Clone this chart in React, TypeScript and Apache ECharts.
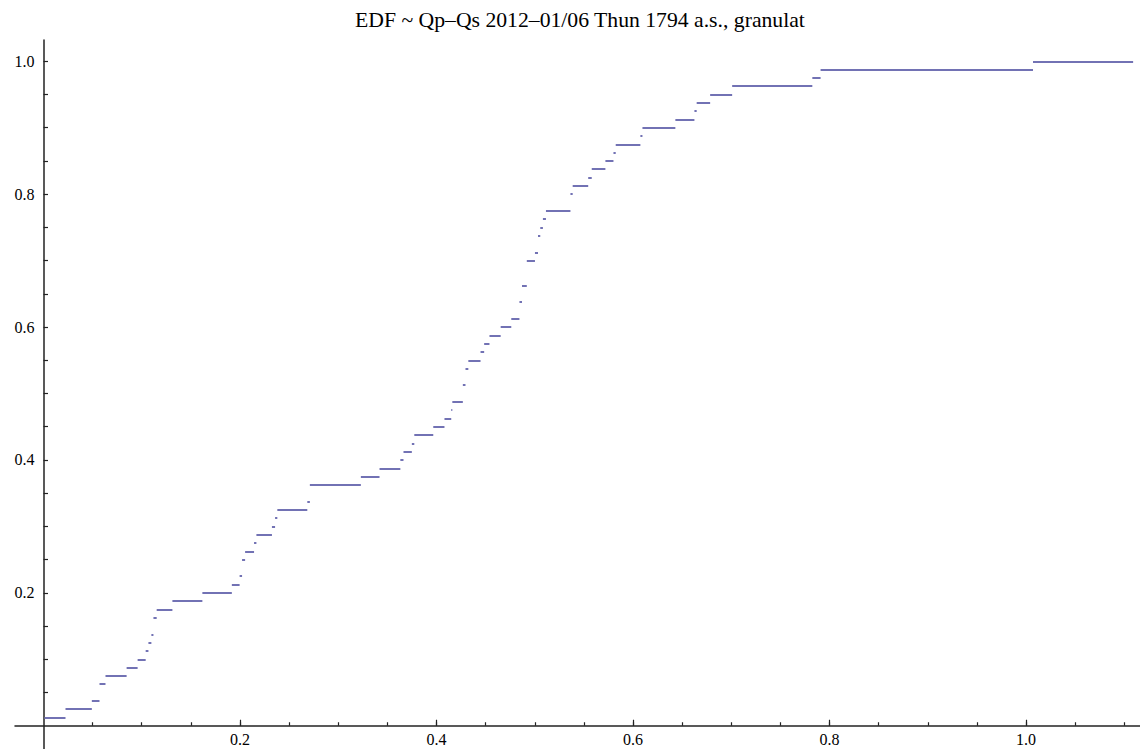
import React, { useEffect, useRef } from "react";
import * as echarts from "echarts";

const SAMPLES = [
  0.001, 0.0224, 0.0492, 0.057, 0.057, 0.0631, 0.0846, 0.0958, 0.104, 0.1068,
  0.1098, 0.1119, 0.1119, 0.1152, 0.1312, 0.1617, 0.1917, 0.1996, 0.2021, 0.2021,
  0.2052, 0.2143, 0.2167, 0.2325, 0.2357, 0.238, 0.2685, 0.2711, 0.2711, 0.323,
  0.342, 0.3632, 0.3664, 0.3749, 0.3774, 0.3967, 0.4081, 0.415, 0.4161, 0.4268,
  0.4268, 0.4295, 0.4295, 0.4324, 0.4448, 0.4485, 0.4539, 0.4653, 0.4761, 0.4844,
  0.4844, 0.487, 0.487, 0.4919, 0.4919, 0.4919, 0.5002, 0.5033, 0.5033, 0.5056,
  0.5083, 0.5114, 0.5363, 0.5363, 0.5386, 0.5544, 0.558, 0.5719, 0.5801, 0.5824,
  0.6075, 0.6096, 0.6431, 0.6625, 0.6648, 0.6785, 0.7009, 0.7825, 0.7909, 1.0071,
];
const PLOT_X_END = 1.109;

const X_LABELS = [0.2, 0.4, 0.6, 0.8, 1.0];
const X_MINOR_TICKS = [
  0.05, 0.1, 0.15, 0.2, 0.25, 0.3, 0.35, 0.4, 0.45, 0.5, 0.55, 0.6, 0.65, 0.7,
  0.75, 0.8, 0.85, 0.9, 0.95, 1.0, 1.05, 1.1,
];
const Y_LABELS = [0.2, 0.4, 0.6, 0.8, 1.0];
const Y_TICKS = [
  0.05, 0.1, 0.15, 0.2, 0.25, 0.3, 0.35, 0.4, 0.45, 0.5, 0.55, 0.6, 0.65, 0.7,
  0.75, 0.8, 0.85, 0.9, 0.95, 1.0,
];

const TITLE = "EDF ~ Qp\u2013Qs 2012\u201301/06 Thun 1794 a.s., granulat";
const FONT = "'Liberation Serif', 'Times New Roman', serif";

// axis extents
const X_MIN_EXT = -0.029;
const X_MAX = 1.116;
const Y_MIN_EXT = -0.035;
const Y_MAX = 1.032;

const W = 1140;
const H = 749;
const OUTER = { left: 15, right: 0, top: 40, bottom: 0 };

export default function App() {
  const ref = useRef<HTMLDivElement>(null);

  useEffect(() => {
    if (!ref.current) return;
    const chart = echarts.init(ref.current, undefined, { renderer: "svg" });
    const n = SAMPLES.length;
    const segments: any[] = [];
    for (let k = 1; k <= n; k++) {
      const x0 = SAMPLES[k - 1];
      const x1 = k < n ? SAMPLES[k] : PLOT_X_END;
      if (x1 - x0 < 1e-9) continue;
      const y = k / n;
      segments.push({ coords: [[x0, y], [x1, y]] });
    }

    // inner grid starts exactly at the origin of the outer (axis-line) grid
    const outerW = W - OUTER.left - OUTER.right;
    const outerH = H - OUTER.top - OUTER.bottom;
    const innerLeft = OUTER.left + ((0 - X_MIN_EXT) / (X_MAX - X_MIN_EXT)) * outerW;
    const innerBottom = OUTER.bottom + ((0 - Y_MIN_EXT) / (Y_MAX - Y_MIN_EXT)) * outerH;

    const tickStyle = { color: "#222", width: 1.2 };
    const axisLineStyle = { color: "#222", width: 1.5 };
    const labelStyle = { fontFamily: FONT, fontSize: 16, color: "#000" };

    chart.setOption({
      animation: false,
      backgroundColor: "#fff",
      title: {
        text: TITLE,
        left: 350,
        top: 4,
        textStyle: { fontFamily: FONT, fontSize: 21.7, fontWeight: "normal", color: "#000" },
      },
      grid: [
        { left: innerLeft, right: OUTER.right, top: OUTER.top, bottom: innerBottom, containLabel: false, outerBoundsMode: "none" },
        { left: OUTER.left, right: OUTER.right, top: OUTER.top, bottom: OUTER.bottom, containLabel: false, outerBoundsMode: "none" },
      ],
      xAxis: [
        {
          gridIndex: 0,
          type: "value",
          min: 0,
          max: X_MAX,
          axisLine: { show: false },
          axisTick: { show: true, inside: true, length: 3.5, customValues: X_MINOR_TICKS, lineStyle: tickStyle },
          axisLabel: {
            show: true,
            customValues: X_LABELS,
            formatter: (v: number) => v.toFixed(1),
            margin: 6,
            ...labelStyle,
          },
          splitLine: { show: false },
        },
        {
          gridIndex: 0,
          type: "value",
          position: "bottom",
          min: 0,
          max: X_MAX,
          axisLine: { show: false, onZero: false },
          axisTick: { show: true, inside: true, length: 6, customValues: X_LABELS, lineStyle: tickStyle },
          axisLabel: { show: false },
          splitLine: { show: false },
        },
        {
          gridIndex: 1,
          type: "value",
          min: X_MIN_EXT,
          max: X_MAX,
          axisLine: { show: true, onZero: true, lineStyle: axisLineStyle },
          axisTick: { show: false },
          axisLabel: { show: false },
          splitLine: { show: false },
        },
      ],
      yAxis: [
        {
          gridIndex: 0,
          type: "value",
          min: 0,
          max: Y_MAX,
          axisLine: { show: false },
          axisTick: { show: true, inside: true, length: 4.5, customValues: Y_TICKS, lineStyle: tickStyle },
          axisLabel: {
            show: true,
            customValues: Y_LABELS,
            formatter: (v: number) => v.toFixed(1),
            margin: 9,
            ...labelStyle,
          },
          splitLine: { show: false },
        },
        {
          gridIndex: 1,
          type: "value",
          min: Y_MIN_EXT,
          max: Y_MAX,
          axisLine: { show: true, onZero: true, lineStyle: axisLineStyle },
          axisTick: { show: false },
          axisLabel: { show: false },
          splitLine: { show: false },
        },
      ],
      series: [
        {
          type: "lines",
          coordinateSystem: "cartesian2d",
          xAxisIndex: 0,
          yAxisIndex: 0,
          polyline: false,
          silent: true,
          lineStyle: { color: "#7272b4", width: 2, opacity: 1, cap: "butt" },
          data: segments,
        },
      ],
    });
    return () => chart.dispose();
  }, []);

  return (
    <div
      ref={ref}
      style={{ position: "fixed", left: 0, top: 0, width: W, height: H, background: "#fff" }}
    />
  );
}
